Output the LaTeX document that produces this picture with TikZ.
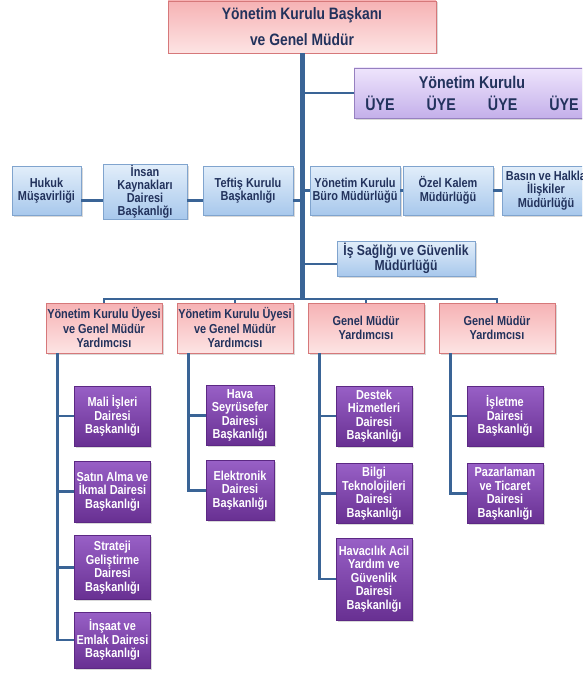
\documentclass[tikz,border=0pt]{standalone}
\usepackage{fontspec}
\setmainfont{Liberation Sans}[FakeStretch=0.84]
\usetikzlibrary{shadows}

\definecolor{navytext}{RGB}{34,50,92}
\definecolor{linkblue}{RGB}{58,100,150}
\definecolor{pinktop}{RGB}{246,178,180}
\definecolor{pinkbot}{RGB}{253,228,228}
\definecolor{pinkedge}{RGB}{214,120,122}
\definecolor{lilactop}{RGB}{238,228,252}
\definecolor{lilacbot}{RGB}{196,176,234}
\definecolor{lilacedge}{RGB}{150,128,192}
\definecolor{bluetop}{RGB}{226,238,250}
\definecolor{bluebot}{RGB}{168,200,236}
\definecolor{blueedge}{RGB}{128,164,206}
\definecolor{purptop}{RGB}{152,96,198}
\definecolor{purpbot}{RGB}{104,48,146}
\definecolor{purpedge}{RGB}{92,40,132}

\begin{document}
\begin{tikzpicture}[x=1pt,y=-1pt,
  box/.style={draw, align=center, inner sep=1pt,
    font=\bfseries\fontsize{13}{13.5}\selectfont,
    drop shadow={opacity=0.3,shadow xshift=1.5pt,shadow yshift=-1.5pt}},
  pinkbox/.style={box, draw=pinkedge, top color=pinktop, bottom color=pinkbot,
    text=navytext, minimum width=116pt, minimum height=50pt,
    font=\bfseries\fontsize{13}{14.5}\selectfont},
  bluebox/.style={box, draw=blueedge, top color=bluetop, bottom color=bluebot,
    text=navytext, minimum height=49pt},
  purplebox/.style={box, draw=purpedge, top color=purptop, bottom color=purpbot,
    text=white, minimum width=76pt, minimum height=60pt},
  link/.style={draw=linkblue, line width=2.6pt},
  trunk/.style={draw=linkblue, line width=5pt}]
\useasboundingbox (0,0) rectangle (582,677);
\clip (0,0) rectangle (582,677);
 % head and board:
\node[pinkbox, minimum width=268pt, minimum height=52pt,
  font=\bfseries\fontsize{16.5}{26}\selectfont] (baskan) at (302,27)
  {Yönetim Kurulu Başkanı\\ve Genel Müdür};
\node[box, draw=lilacedge, top color=lilactop, bottom color=lilacbot, text=navytext,
  minimum width=236pt, minimum height=50pt,
  font=\bfseries\fontsize{17}{22}\selectfont] (kurul) at (472,93)
  {Yönetim Kurulu\\ÜYE\hspace{32pt}ÜYE\hspace{32pt}ÜYE\hspace{32pt}ÜYE};
\coordinate (bus) at (302,299);
\coordinate (lrow) at (302,200.5);
\coordinate (isgrow) at (302,264);
 % staff row:
\node[bluebox, minimum width=69pt] (hukuk) at (46.5,190.5) {Hukuk\\Müşavirliği};
\node[bluebox, minimum width=84pt, minimum height=53pt,
  font=\bfseries\fontsize{13}{13}\selectfont] (insan) at (145,191.5)
  {İnsan\\Kaynakları\\Dairesi\\Başkanlığı};
\node[bluebox, minimum width=90pt] (teftis) at (248,190.5) {Teftiş Kurulu\\Başkanlığı};
\node[bluebox, minimum width=90pt] (buro) at (355,190.5) {Yönetim Kurulu\\Büro Müdürlüğü};
\node[bluebox, minimum width=90pt] (ozel) at (448,190.5) {Özel Kalem\\Müdürlüğü};
\node[bluebox, minimum width=88pt] (basin) at (546,190.5) {Basın ve Halkla\\İlişkiler\\Müdürlüğü};
\node[bluebox, minimum width=138pt, minimum height=35pt,
  font=\bfseries\fontsize{14.5}{13.5}\selectfont] (isg) at (406,258.5)
  {İş Sağlığı ve Güvenlik\\Müdürlüğü};
 % deputies:
\node[pinkbox] (gmy1) at (104,328) {Yönetim Kurulu Üyesi\\ve Genel Müdür\\Yardımcısı};
\node[pinkbox] (gmy2) at (235,328) {Yönetim Kurulu Üyesi\\ve Genel Müdür\\Yardımcısı};
\node[pinkbox] (gmy3) at (366,328) {Genel Müdür\\Yardımcısı};
\node[pinkbox] (gmy4) at (497,328) {Genel Müdür\\Yardımcısı};
 % departments:
\node[purplebox] (mali) at (112.5,416) {Mali İşleri\\Dairesi\\Başkanlığı};
\node[purplebox, minimum height=61pt] (satin) at (112.5,491.5) {Satın Alma ve\\İkmal Dairesi\\Başkanlığı};
\node[purplebox, minimum height=64pt] (strateji) at (112.5,567.5) {Strateji\\Geliştirme\\Dairesi\\Başkanlığı};
\node[purplebox, minimum height=56pt] (insaat) at (112.5,640) {İnşaat ve\\Emlak Dairesi\\Başkanlığı};
\node[purplebox, minimum width=68pt] (hava) at (240,415.5) {Hava\\Seyrüsefer\\Dairesi\\Başkanlığı};
\node[purplebox, minimum width=68pt] (elektronik) at (240,490.5) {Elektronik\\Dairesi\\Başkanlığı};
\node[purplebox] (destek) at (374,416) {Destek\\Hizmetleri\\Dairesi\\Başkanlığı};
\node[purplebox] (bilgi) at (374,493.5) {Bilgi\\Teknolojileri\\Dairesi\\Başkanlığı};
\node[purplebox, minimum height=82pt] (havacilik) at (374,579) {Havacılık Acil\\Yardım ve\\Güvenlik\\Dairesi\\Başkanlığı};
\node[purplebox] (isletme) at (505,416) {İşletme\\Dairesi\\Başkanlığı};
\node[purplebox] (pazarlama) at (505,493.5) {Pazarlaman\\ve Ticaret\\Dairesi\\Başkanlığı};
 % connectors:
\draw[link] (kurul.west -| bus) -- (kurul.west);
\draw[link] (hukuk.east |- lrow) -- (insan.west |- lrow);
\draw[link] (insan.east |- lrow) -- (teftis.west |- lrow);
\draw[link] (teftis.east |- lrow) -- (lrow);
\draw[link] (bus |- buro.west) -- (buro.west);
\draw[link] (buro.east) -- (ozel.west);
\draw[link] (ozel.east) -- (basin.west);
\draw[link] (isgrow) -- (isg.west |- isgrow);
\draw[link] (gmy1.north) |- (bus) -| (gmy4.north);
\draw[link] (gmy2.north) |- (bus);
\draw[link] (gmy3.north) |- (bus);
\draw[trunk] (baskan.south) -- (baskan.south |- bus);
\draw[link] ([xshift=11.5pt]gmy1.south west) |- (mali.west);
\draw[link] ([xshift=11.5pt]gmy1.south west) |- (satin.west);
\draw[link] ([xshift=11.5pt]gmy1.south west) |- (strateji.west);
\draw[link] ([xshift=11.5pt]gmy1.south west) |- (insaat.west);
\draw[link] ([xshift=11.5pt]gmy2.south west) |- (hava.west);
\draw[link] ([xshift=11.5pt]gmy2.south west) |- (elektronik.west);
\draw[link] ([xshift=11.5pt]gmy3.south west) |- (destek.west);
\draw[link] ([xshift=11.5pt]gmy3.south west) |- (bilgi.west);
\draw[link] ([xshift=11.5pt]gmy3.south west) |- (havacilik.west);
\draw[link] ([xshift=11.5pt]gmy4.south west) |- (isletme.west);
\draw[link] ([xshift=11.5pt]gmy4.south west) |- (pazarlama.west);
\end{tikzpicture}
\end{document}
